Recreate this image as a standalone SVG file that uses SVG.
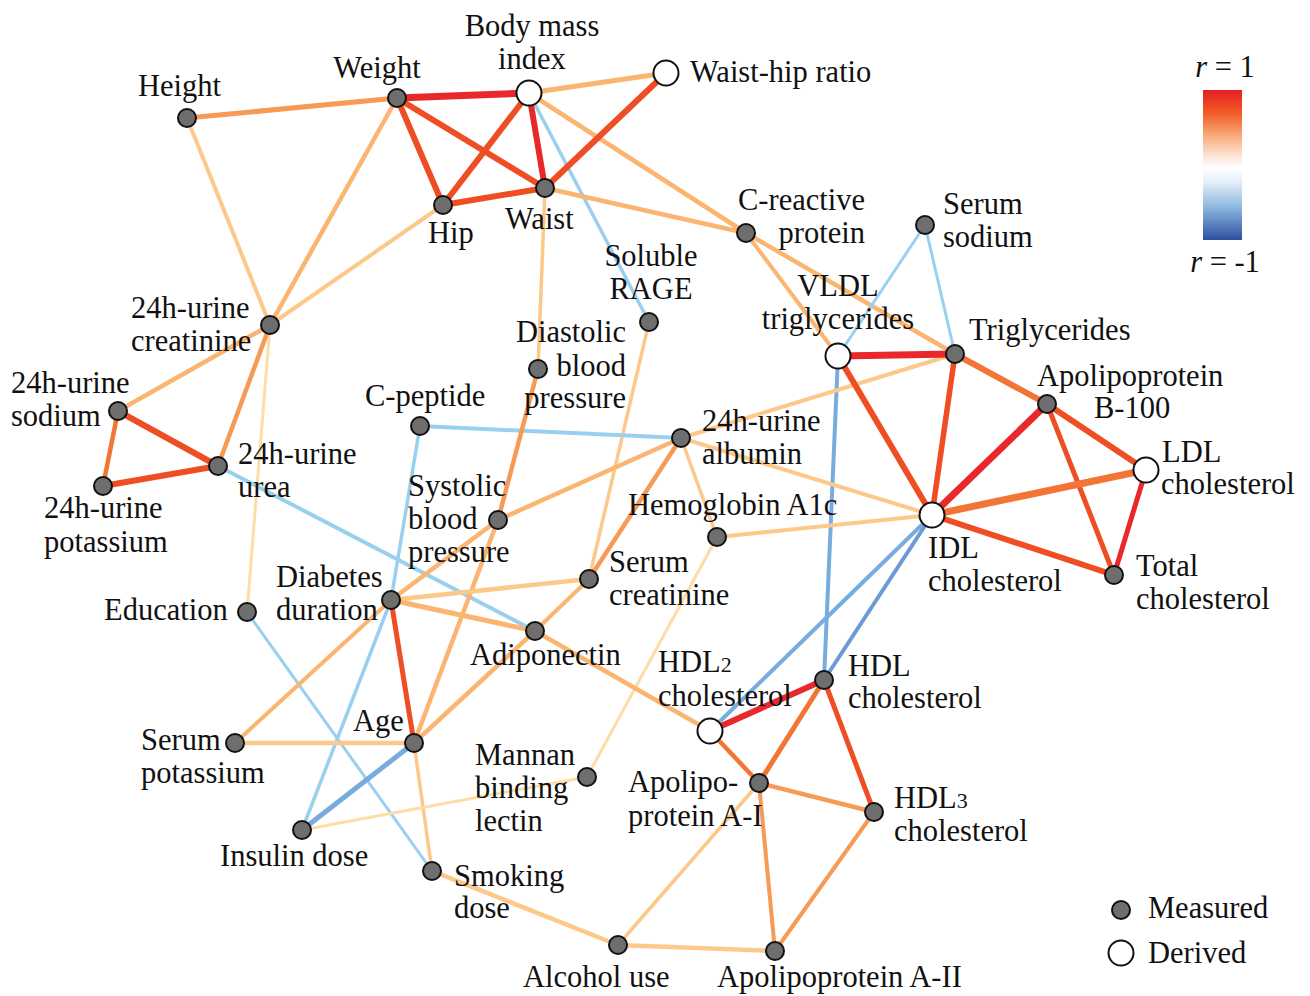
<svg xmlns="http://www.w3.org/2000/svg" width="1310" height="996" viewBox="0 0 1310 996">
<style>
text{font-family:"Liberation Serif","Times New Roman",serif;font-size:30.5px;fill:#111}
.m{fill:#6e6e6e;stroke:#111;stroke-width:2}
.d{fill:#fff;stroke:#111;stroke-width:2}
line{stroke-linecap:butt;fill:none}
.r1{stroke:#e8282a}.r2{stroke:#ef4e24}.r3{stroke:#f37536}
.o1{stroke:#f79a56}.o2{stroke:#fbb571}.o3{stroke:#fdc98a}.o4{stroke:#fddca6}
.b1{stroke:#9ad0ef}.b2{stroke:#78acdd}.b3{stroke:#6a9bd5}
</style>
<defs>
<linearGradient id="cbar" x1="0" y1="0" x2="0" y2="1">
<stop offset="0" stop-color="#e41e26"/>
<stop offset="0.15" stop-color="#f15a24"/>
<stop offset="0.3" stop-color="#f8a878"/>
<stop offset="0.45" stop-color="#fde8dc"/>
<stop offset="0.52" stop-color="#ffffff"/>
<stop offset="0.62" stop-color="#e2edf8"/>
<stop offset="0.78" stop-color="#8db8e0"/>
<stop offset="1" stop-color="#2c4f9e"/>
</linearGradient>
</defs>
<g id="connectors">
<line class="o1" stroke-width="5" x1="187" y1="118" x2="397" y2="98"/>
<line class="o3" stroke-width="4" x1="187" y1="118" x2="270" y2="325"/>
<line class="o2" stroke-width="4.5" x1="397" y1="98" x2="270" y2="325"/>
<line class="o3" stroke-width="4" x1="443" y1="205" x2="270" y2="325"/>
<line class="b1" stroke-width="3.5" x1="529" y1="93" x2="649" y2="322"/>
<line class="o2" stroke-width="4.5" x1="529" y1="93" x2="746" y2="233"/>
<line class="o2" stroke-width="5" x1="529" y1="93" x2="666" y2="73"/>
<line class="o2" stroke-width="4.5" x1="545" y1="188" x2="746" y2="233"/>
<line class="o3" stroke-width="3.5" x1="545" y1="188" x2="538" y2="369"/>
<line class="r1" stroke-width="7" x1="397" y1="98" x2="529" y2="93"/>
<line class="r2" stroke-width="6" x1="397" y1="98" x2="443" y2="205"/>
<line class="r2" stroke-width="6" x1="397" y1="98" x2="545" y2="188"/>
<line class="r2" stroke-width="6" x1="529" y1="93" x2="443" y2="205"/>
<line class="r1" stroke-width="6" x1="529" y1="93" x2="545" y2="188"/>
<line class="r2" stroke-width="6" x1="545" y1="188" x2="666" y2="73"/>
<line class="r2" stroke-width="6" x1="443" y1="205" x2="545" y2="188"/>
<line class="o3" stroke-width="3.5" x1="649" y1="322" x2="589" y2="579"/>
<line class="o2" stroke-width="4" x1="746" y1="233" x2="838" y2="356"/>
<line class="o2" stroke-width="4.5" x1="746" y1="233" x2="955" y2="354"/>
<line class="b1" stroke-width="3" x1="925" y1="225" x2="838" y2="356"/>
<line class="b1" stroke-width="3" x1="925" y1="225" x2="955" y2="354"/>
<line class="b2" stroke-width="4" x1="838" y1="356" x2="824" y2="680"/>
<line class="b2" stroke-width="4" x1="932" y1="515" x2="710" y2="731"/>
<line class="b3" stroke-width="4" x1="932" y1="515" x2="824" y2="680"/>
<line class="o3" stroke-width="4" x1="955" y1="354" x2="681" y2="438"/>
<line class="o3" stroke-width="4" x1="932" y1="515" x2="681" y2="438"/>
<line class="o3" stroke-width="4" x1="932" y1="515" x2="717" y2="537"/>
<line class="r1" stroke-width="7" x1="838" y1="356" x2="955" y2="354"/>
<line class="r2" stroke-width="6" x1="838" y1="356" x2="932" y2="515"/>
<line class="r2" stroke-width="5.5" x1="955" y1="354" x2="932" y2="515"/>
<line class="r3" stroke-width="6" x1="955" y1="354" x2="1047" y2="404"/>
<line class="r1" stroke-width="7" x1="1047" y1="404" x2="932" y2="515"/>
<line class="r2" stroke-width="6" x1="1047" y1="404" x2="1146" y2="470"/>
<line class="r2" stroke-width="5" x1="1047" y1="404" x2="1114" y2="575"/>
<line class="r3" stroke-width="7" x1="1146" y1="470" x2="932" y2="515"/>
<line class="r1" stroke-width="5" x1="1146" y1="470" x2="1114" y2="575"/>
<line class="r2" stroke-width="6" x1="932" y1="515" x2="1114" y2="575"/>
<line class="b1" stroke-width="4" x1="681" y1="438" x2="420" y2="426"/>
<line class="o3" stroke-width="3.5" x1="681" y1="438" x2="717" y2="537"/>
<line class="o2" stroke-width="4.5" x1="681" y1="438" x2="498" y2="520"/>
<line class="o1" stroke-width="4.5" x1="681" y1="438" x2="589" y2="579"/>
<line class="o4" stroke-width="3" x1="717" y1="537" x2="587" y2="777"/>
<line class="b1" stroke-width="3.5" x1="420" y1="426" x2="391" y2="600"/>
<line class="b1" stroke-width="3.5" x1="391" y1="600" x2="302" y2="830"/>
<line class="b1" stroke-width="4" x1="218" y1="466" x2="535" y2="631"/>
<line class="o4" stroke-width="3" x1="270" y1="325" x2="247" y2="612"/>
<line class="b1" stroke-width="3" x1="247" y1="612" x2="432" y2="871"/>
<line class="o1" stroke-width="4.5" x1="538" y1="369" x2="498" y2="520"/>
<line class="o2" stroke-width="4.5" x1="498" y1="520" x2="391" y2="600"/>
<line class="o2" stroke-width="4.5" x1="498" y1="520" x2="414" y2="743"/>
<line class="r2" stroke-width="6" x1="218" y1="466" x2="118" y2="411"/>
<line class="r2" stroke-width="6" x1="218" y1="466" x2="103" y2="486"/>
<line class="r3" stroke-width="4.5" x1="118" y1="411" x2="103" y2="486"/>
<line class="o2" stroke-width="4.5" x1="118" y1="411" x2="270" y2="325"/>
<line class="o1" stroke-width="4.5" x1="270" y1="325" x2="218" y2="466"/>
<line class="o3" stroke-width="4.5" x1="391" y1="600" x2="589" y2="579"/>
<line class="o2" stroke-width="5" x1="391" y1="600" x2="535" y2="631"/>
<line class="o2" stroke-width="4" x1="391" y1="600" x2="235" y2="743"/>
<line class="o2" stroke-width="4" x1="535" y1="631" x2="589" y2="579"/>
<line class="o2" stroke-width="4.5" x1="535" y1="631" x2="414" y2="743"/>
<line class="o2" stroke-width="4.5" x1="535" y1="631" x2="710" y2="731"/>
<line class="o3" stroke-width="4.5" x1="235" y1="743" x2="414" y2="743"/>
<line class="b2" stroke-width="5" x1="414" y1="743" x2="302" y2="830"/>
<line class="o3" stroke-width="3.5" x1="414" y1="743" x2="432" y2="871"/>
<line class="o4" stroke-width="3" x1="302" y1="830" x2="587" y2="777"/>
<line class="r2" stroke-width="5" x1="391" y1="600" x2="414" y2="743"/>
<line class="o3" stroke-width="4.5" x1="432" y1="871" x2="618" y2="945"/>
<line class="o3" stroke-width="4.5" x1="618" y1="945" x2="775" y2="951"/>
<line class="o3" stroke-width="3.5" x1="618" y1="945" x2="759" y2="783"/>
<line class="o1" stroke-width="4" x1="759" y1="783" x2="775" y2="951"/>
<line class="o1" stroke-width="4.5" x1="759" y1="783" x2="874" y2="812"/>
<line class="o1" stroke-width="4" x1="874" y1="812" x2="775" y2="951"/>
<line class="r3" stroke-width="5" x1="759" y1="783" x2="824" y2="680"/>
<line class="r3" stroke-width="4.5" x1="759" y1="783" x2="710" y2="731"/>
<line class="r1" stroke-width="6" x1="824" y1="680" x2="710" y2="731"/>
<line class="r2" stroke-width="5" x1="824" y1="680" x2="874" y2="812"/>
</g>
<g id="n-height"><circle class="m" cx="187" cy="118" r="9"/><text x="138" y="96">Height</text></g>
<g id="n-weight"><circle class="m" cx="397" cy="98" r="9"/><text x="377" y="78" text-anchor="middle">Weight</text></g>
<g id="n-bmi"><circle class="d" cx="529" cy="93" r="12.5"/><text x="532" y="36" text-anchor="middle">Body mass</text><text x="532" y="69" text-anchor="middle">index</text></g>
<g id="n-whr"><circle class="d" cx="666" cy="73" r="12.5"/><text x="690" y="82">Waist-hip ratio</text></g>
<g id="n-hip"><circle class="m" cx="443" cy="205" r="9"/><text x="428" y="243">Hip</text></g>
<g id="n-waist"><circle class="m" cx="545" cy="188" r="9"/><text x="505" y="229">Waist</text></g>
<g id="n-crp"><circle class="m" cx="746" cy="233" r="9"/><text x="865" y="210" text-anchor="end">C-reactive</text><text x="865" y="243" text-anchor="end">protein</text></g>
<g id="n-serum-sodium"><circle class="m" cx="925" cy="225" r="9"/><text x="943" y="214">Serum</text><text x="943" y="247">sodium</text></g>
<g id="n-rage"><circle class="m" cx="649" cy="322" r="9"/><text x="651" y="266" text-anchor="middle">Soluble</text><text x="651" y="299" text-anchor="middle">RAGE</text></g>
<g id="n-vldl"><circle class="d" cx="838" cy="356" r="12.5"/><text x="838" y="296" text-anchor="middle">VLDL</text><text x="838" y="329" text-anchor="middle">triglycerides</text></g>
<g id="n-trig"><circle class="m" cx="955" cy="354" r="9"/><text x="969" y="340">Triglycerides</text></g>
<g id="n-apob"><circle class="m" cx="1047" cy="404" r="9"/><text x="1037" y="386">Apolipoprotein</text><text x="1094" y="418">B-100</text></g>
<g id="n-ldl"><circle class="d" cx="1146" cy="470" r="12.5"/><text x="1162" y="462">LDL</text><text x="1161" y="494">cholesterol</text></g>
<g id="n-u-creat"><circle class="m" cx="270" cy="325" r="9"/><text x="131" y="318">24h-urine</text><text x="131" y="351">creatinine</text></g>
<g id="n-dbp"><circle class="m" cx="538" cy="369" r="9"/><text x="626" y="342" text-anchor="end">Diastolic</text><text x="626" y="376" text-anchor="end">blood</text><text x="626" y="408" text-anchor="end">pressure</text></g>
<g id="n-u-sodium"><circle class="m" cx="118" cy="411" r="9"/><text x="11" y="393">24h-urine</text><text x="11" y="426">sodium</text></g>
<g id="n-cpep"><circle class="m" cx="420" cy="426" r="9"/><text x="365" y="406">C-peptide</text></g>
<g id="n-u-alb"><circle class="m" cx="681" cy="438" r="9"/><text x="702" y="431">24h-urine</text><text x="702" y="464">albumin</text></g>
<g id="n-u-urea"><circle class="m" cx="218" cy="466" r="9"/><text x="238" y="464">24h-urine</text><text x="238" y="497">urea</text></g>
<g id="n-u-k"><circle class="m" cx="103" cy="486" r="9"/><text x="44" y="518">24h-urine</text><text x="44" y="552">potassium</text></g>
<g id="n-idl"><circle class="d" cx="932" cy="515" r="12.5"/><text x="928" y="558">IDL</text><text x="928" y="591">cholesterol</text></g>
<g id="n-total"><circle class="m" cx="1114" cy="575" r="9"/><text x="1136" y="576">Total</text><text x="1136" y="609">cholesterol</text></g>
<g id="n-hba1c"><circle class="m" cx="717" cy="537" r="9"/><text x="628" y="515">Hemoglobin A1c</text></g>
<g id="n-sbp"><circle class="m" cx="498" cy="520" r="9"/><text x="408" y="496">Systolic</text><text x="408" y="529">blood</text><text x="408" y="562">pressure</text></g>
<g id="n-s-creat"><circle class="m" cx="589" cy="579" r="9"/><text x="609" y="572">Serum</text><text x="609" y="605">creatinine</text></g>
<g id="n-diab"><circle class="m" cx="391" cy="600" r="9"/><text x="276" y="587">Diabetes</text><text x="276" y="620">duration</text></g>
<g id="n-edu"><circle class="m" cx="247" cy="612" r="9"/><text x="104" y="620">Education</text></g>
<g id="n-adipo"><circle class="m" cx="535" cy="631" r="9"/><text x="470" y="665">Adiponectin</text></g>
<g id="n-hdl"><circle class="m" cx="824" cy="680" r="9"/><text x="848" y="676">HDL</text><text x="848" y="708">cholesterol</text></g>
<g id="n-hdl2"><circle class="d" cx="710" cy="731" r="12.5"/><text x="658" y="672">HDL<tspan font-size="22">2</tspan></text><text x="658" y="706">cholesterol</text></g>
<g id="n-s-k"><circle class="m" cx="235" cy="743" r="9"/><text x="141" y="750">Serum</text><text x="141" y="783">potassium</text></g>
<g id="n-age"><circle class="m" cx="414" cy="743" r="9"/><text x="353" y="731">Age</text></g>
<g id="n-mbl"><circle class="m" cx="587" cy="777" r="9"/><text x="475" y="765">Mannan</text><text x="475" y="798">binding</text><text x="475" y="831">lectin</text></g>
<g id="n-apoa1"><circle class="m" cx="759" cy="783" r="9"/><text x="628" y="792">Apolipo-</text><text x="628" y="826">protein A-I</text></g>
<g id="n-hdl3"><circle class="m" cx="874" cy="812" r="9"/><text x="894" y="808">HDL<tspan font-size="22">3</tspan></text><text x="894" y="841">cholesterol</text></g>
<g id="n-insulin"><circle class="m" cx="302" cy="830" r="9"/><text x="220" y="866">Insulin dose</text></g>
<g id="n-smoking"><circle class="m" cx="432" cy="871" r="9"/><text x="454" y="886">Smoking</text><text x="454" y="918">dose</text></g>
<g id="n-alcohol"><circle class="m" cx="618" cy="945" r="9"/><text x="523" y="987">Alcohol use</text></g>
<g id="n-apoa2"><circle class="m" cx="775" cy="951" r="9"/><text x="717" y="987">Apolipoprotein A-II</text></g>
<g id="legend">
<text x="1225" y="77" text-anchor="middle"><tspan font-style="italic">r</tspan> = 1</text>
<rect x="1203" y="90" width="39" height="150" fill="url(#cbar)"/>
<text x="1225" y="272" text-anchor="middle"><tspan font-style="italic">r</tspan> = -1</text>
<circle class="m" cx="1121" cy="910" r="9"/><text x="1148" y="918">Measured</text>
<circle class="d" cx="1121" cy="953" r="12.5"/><text x="1148" y="963">Derived</text>
</g>
</svg>
